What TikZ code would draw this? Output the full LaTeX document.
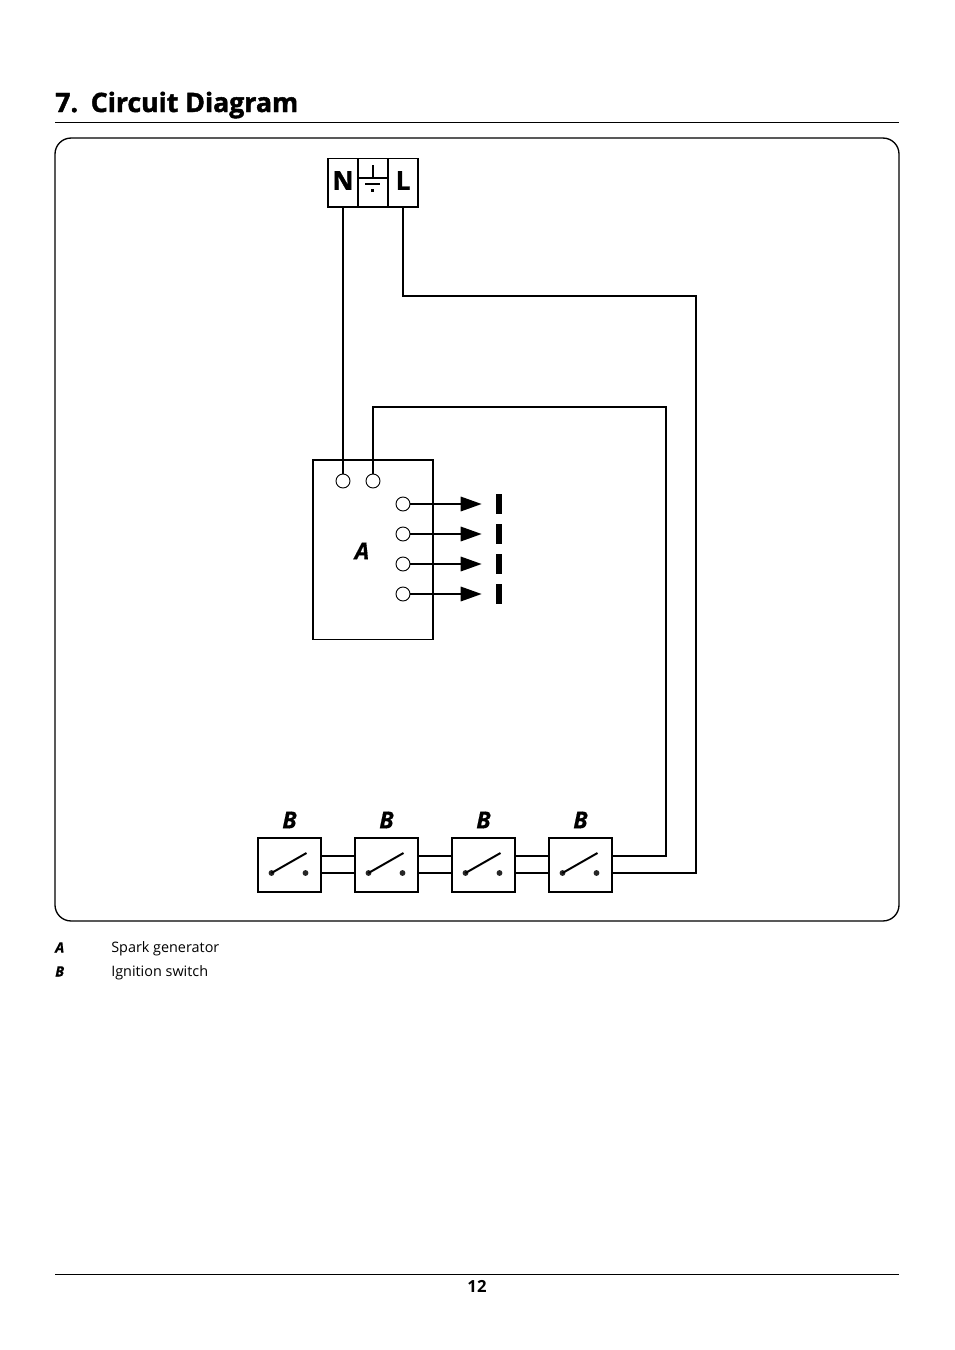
\documentclass[tikz,border=0pt]{standalone}
\usepackage{fontspec}
\setmainfont{Open Sans}
\newfontfamily\heavyfont{Open Sans}[BoldFeatures={FakeBold=1.6},BoldItalicFeatures={FakeBold=0.4}]
\usepackage{xcolor}
\usepackage{tikz}
\usetikzlibrary{positioning}
\usetikzlibrary{arrows.meta}
\tikzset{
  wire/.style={line width=1.5pt},
  cell/.style={draw,line width=1.1pt,inner sep=0pt,minimum width=22.6pt,minimum height=36.4pt},
  celltext/.style={inner sep=0pt,font=\heavyfont\bfseries\fontsize{19.5}{19.5}\selectfont},
  pin/.style={circle,draw,line width=0.7pt,inner sep=0pt,minimum size=10.5pt},
  sparkgap/.style={fill=black,inner sep=0pt,minimum width=3.8pt,minimum height=15.4pt},
  switchbox/.style={draw,line width=1.3pt,inner sep=0pt,minimum width=47.2pt,minimum height=40.5pt},
  contact/.style={circle,fill=black!85,inner sep=0pt,minimum size=4.4pt},
  tag/.style={font=\heavyfont\bfseries\itshape\fontsize{17.5}{17.5}\selectfont,inner sep=0pt},
  legend/.style={font=\fontsize{10.8}{10.8}\selectfont,inner sep=0pt,anchor=base west},
  legendkey/.style={legend,font=\heavyfont\bfseries\itshape\fontsize{10.7}{10.7}\selectfont},
}
\begin{document}
\begin{tikzpicture}[x=0.75pt,y=-0.75pt]
\useasboundingbox (0,0) rectangle (954,1350);
% heading
\node (num) at (55,112) [anchor=base west,inner sep=0pt,font=\heavyfont\bfseries\fontsize{20}{20}\selectfont]{7.};
\node (title) at (90.5,112) [anchor=base west,inner sep=0pt,font=\heavyfont\bfseries\fontsize{20}{20}\selectfont]{Circuit Diagram};
\coordinate (ruleL) at (55,122.7);
\coordinate (ruleR) at (899,122.7);
\draw[line width=0.75pt] (ruleL) -- (ruleR);
% panel
\node (panel) at (477,529.5) [draw,line width=1pt,rounded corners=12pt,minimum width=633pt,minimum height=587.2pt]{};
% mains terminal
\node (termN) at (343,182.5) [cell]{};
\node (termE) at (373,182.5) [cell]{};
\node (termL) at (403,182.5) [cell]{};
\node (textN) at (343,180.5) [celltext]{N};
\node (textL) at (403,180.5) [celltext]{L};
\coordinate (earthA) at (373,165);
\coordinate (earthB) at (373,178);
\coordinate (earthC) at (359,178);
\coordinate (earthD) at (387,178);
\coordinate (earthE) at (365,184);
\coordinate (earthF) at (380,184);
\draw[line width=0.8pt] (earthA) -- (earthB) (earthC) -- (earthD) (earthE) -- (earthF);
\node (earthG) at (372.5,190.5) [fill=black,inner sep=0pt,minimum width=2.2pt,minimum height=1.6pt]{};
% spark generator
\node (gen) at (373,549.5) [draw,line width=1pt,inner sep=0pt,minimum width=90pt,minimum height=134.5pt]{};
\node (genA) at (362,551) [tag]{A};
\node (pinN) at (343,481) [pin]{};
\node (pinL) at (373,481) [pin]{};
\foreach \i/\y in {1/504,2/534,3/564,4/594}
{
\node (out\i) at (403,\y) [pin]{};
\node (gap\i) at (499,\y) [sparkgap]{};
\draw[wire,-{Triangle[length=15.7pt,width=10.8pt]},shorten >=10.9pt] (out\i) -- (gap\i);
}
% ignition switches
\foreach \i/\x in {1/289.5,2/386.5,3/483.5,4/580.5}
{
\node (sw\i) at (\x,865) [switchbox]{};
\node (tag\i) at (\x,820) [tag]{B};
\node (a\i) at (\x-18,873) [contact]{};
\node (b\i) at (\x+16,873) [contact]{};
\coordinate (blade\i) at (\x+17,853);
\draw[line width=1.5pt] (a\i.center) -- (blade\i);
}
\foreach \i/\j in {1/2,2/3,3/4}
{
\draw[wire] ([yshift=6.75pt]sw\i.east) -- ([yshift=6.75pt]sw\j.west);
\draw[wire] ([yshift=-6pt]sw\i.east) -- ([yshift=-6pt]sw\j.west);
}
% wiring
\coordinate (railL) at (695.5,296);
\coordinate (railS) at (666,407);
\draw[wire] (termN.south) -- (pinN);
\draw[wire] (pinL) |- (railS) |- ([yshift=6.75pt]sw4.east);
\draw[wire] (termL.south) |- (railL) |- ([yshift=-6pt]sw4.east);
% key
\node (keyA) at (55,952.5) [legendkey]{A};
\node (textA) at (111,952.5) [legend]{Spark generator};
\node (keyB) at (55,976.5) [legendkey]{B};
\node (textB) at (111,976.5) [legend]{Ignition switch};
% footer
\coordinate (footL) at (55,1274.5);
\coordinate (footR) at (899,1274.5);
\draw[line width=0.75pt] (footL) -- (footR);
\node (page) at (477,1292) [anchor=base,inner sep=0pt,font=\bfseries\fontsize{12.5}{12.5}\selectfont]{12};
\end{tikzpicture}
\end{document}
